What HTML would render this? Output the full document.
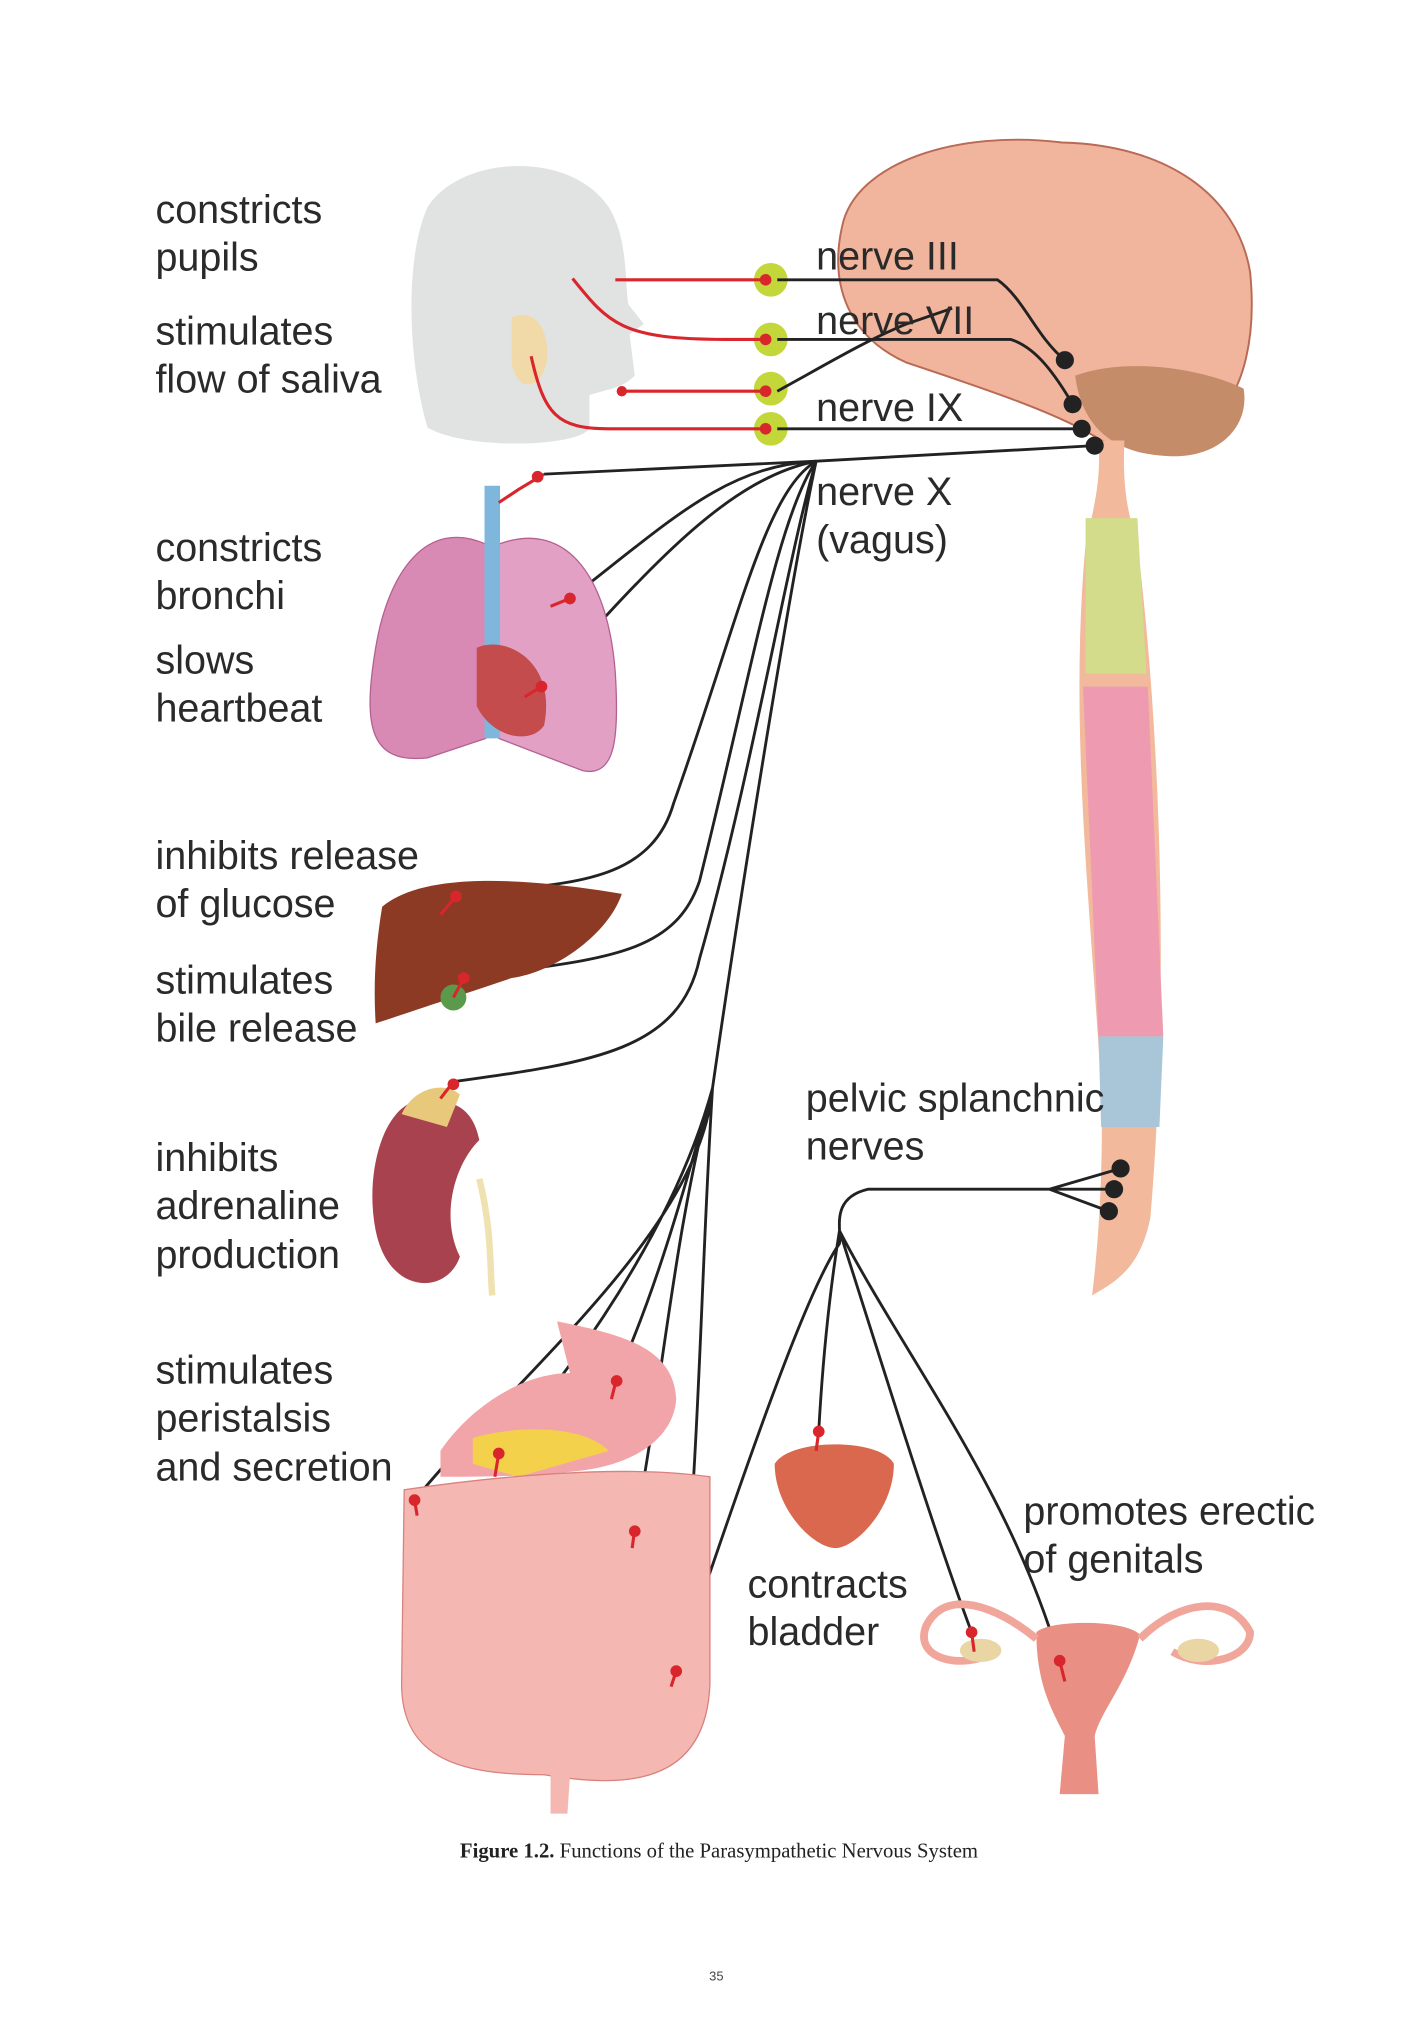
<!DOCTYPE html>
<html><head><meta charset="utf-8"><style>
html,body{margin:0;padding:0;background:#fff;width:1425px;height:2017px;overflow:hidden}
svg{display:block}
.t{font-family:"Liberation Sans",Arial,sans-serif;font-size:30.5px;fill:#2a2a2a}
.n{stroke:#222;stroke-width:2.2;fill:none}
.r{stroke:#d8262c;stroke-width:2.4;fill:none}
</style></head><body>
<svg width="1425" height="2017" viewBox="0 0 1100 1557" xmlns="http://www.w3.org/2000/svg">
<rect width="1100" height="1557" fill="#fff"/>
<path d="M330 330 C315 280 312 200 330 160 C355 120 440 115 470 160 C485 185 482 215 485 235 L497 250 L486 258 L490 290 C480 300 470 300 455 305 L455 330 C450 345 360 348 330 330Z" fill="#e1e3e3"/>
<path d="M395 245 C410 238 425 250 422 280 C415 305 398 300 395 280Z" fill="#f1d9a8"/>
<path d="M650 175 C660 125 740 100 820 110 C900 112 955 150 965 210 C970 260 960 300 940 320 C920 345 880 350 850 340 C820 320 760 300 700 280 C655 260 640 220 650 175Z" fill="#f1b49d" stroke="#b86a55" stroke-width="1.5"/>
<path d="M830 290 C870 275 930 285 960 300 C965 330 940 355 900 352 C860 350 835 330 830 290Z" fill="#c58c6a"/>
<path d="M848 340 L868 340 C866 380 872 400 878 420 C900 600 900 800 888 940 C880 980 860 990 843 1000 C848 960 852 900 850 840 C842 700 825 560 838 420 C845 390 850 370 848 340Z" fill="#f2b99c"/>
<path d="M838 400 L878 400 L885 520 L838 520Z" fill="#d3dc8a"/>
<path d="M836 530 L886 530 L898 800 L848 800Z" fill="#ee9ab0"/>
<path d="M848 800 L898 800 L895 870 L850 870Z" fill="#a9c6d8"/>
<g fill="#c3d73b"><circle cx="595" cy="216" r="13"/><circle cx="595" cy="262" r="13"/><circle cx="595" cy="300" r="13"/><circle cx="595" cy="331" r="13"/></g>
<path class="r" d="M475 216 L592 216 M442 215 C470 250 480 262 560 262 L592 262 M480 302 L592 302 M410 275 C420 320 430 331 470 331 L592 331"/>
<g fill="#d8262c"><circle cx="591" cy="216" r="4.5"/><circle cx="591" cy="262" r="4.5"/><circle cx="591" cy="302" r="4.5"/><circle cx="591" cy="331" r="4.5"/><circle cx="480" cy="302" r="4"/></g>
<path class="n" d="M600 216 L770 216 C790 230 800 260 822 278 M600 262 L780 262 C800 268 815 290 828 312 M600 302 C640 280 670 262 700 250 L735 238 M600 331 L835 331 M420 366 L630 356 L845 344 M630 356 C560 360 520 400 440 462 M630 356 C560 370 500 440 418 530 M630 356 C590 380 570 480 520 620 C500 690 420 680 352 692 M630 356 C600 400 580 520 540 680 C520 740 460 740 358 755 M630 356 C610 420 580 600 540 740 C525 810 460 820 350 835 M630 356 C610 450 570 700 550 840 C540 950 400 1060 320 1158 M630 356 C610 450 570 700 550 840 C520 950 440 1060 385 1122 M630 356 C610 450 570 700 550 840 C520 950 500 1010 476 1064 M630 356 C610 450 570 700 550 840 C520 950 510 1080 490 1180 M630 356 C610 450 570 700 550 840 C540 1000 540 1150 522 1290"/>
<g fill="#222"><circle cx="822" cy="278" r="7"/><circle cx="828" cy="312" r="7"/><circle cx="835" cy="331" r="7"/><circle cx="845" cy="344" r="7"/><circle cx="865" cy="902" r="7"/><circle cx="860" cy="918" r="7"/><circle cx="856" cy="935" r="7"/></g>
<path class="n" d="M865 902 L810 918 L862 918 M810 918 L856 935 M810 918 L670 918 C640 925 650 950 648 960 C620 1000 570 1150 522 1290 M648 950 C640 1000 635 1050 632 1105 M648 950 C680 1050 720 1180 750 1260 M648 950 C700 1050 780 1150 818 1282"/>
<path d="M375 420 C330 400 300 440 290 500 C280 560 285 590 330 585 L375 570Z" fill="#d98ab4" stroke="#b46090"/>
<path d="M385 420 C440 400 470 450 475 520 C478 570 475 600 450 595 L385 570Z" fill="#e1a0c4" stroke="#b46090"/>
<path d="M374 375 L386 375 L386 570 L374 570Z" fill="#7fb7dc"/>
<path d="M368 500 C390 490 430 510 420 560 C410 575 380 570 368 545Z" fill="#c44c4c"/>
<path d="M295 700 C330 670 420 680 480 690 C470 720 430 750 395 755 C350 770 320 780 290 790 C288 760 290 730 295 700Z" fill="#8c3a24"/>
<circle cx="350" cy="770" r="10" fill="#5a9a4a"/>
<path d="M335 850 C300 840 280 900 290 950 C300 1000 345 1000 355 970 C340 940 350 900 370 880 C365 855 350 850 335 850Z" fill="#a8424e"/>
<path d="M310 860 C320 838 345 835 355 845 L345 870Z" fill="#e8c87a"/>
<path d="M370 910 C380 950 378 980 380 1000" stroke="#efe1b0" stroke-width="5" fill="none"/>
<path d="M340 1120 C360 1090 400 1060 440 1060 L430 1020 C480 1030 520 1040 522 1080 C520 1110 490 1130 450 1135 C410 1140 370 1140 340 1140Z" fill="#f2a5a8"/>
<path d="M365 1110 C400 1100 450 1100 470 1120 L400 1140 L365 1130Z" fill="#f3d14a"/>
<path d="M312 1150 C380 1140 480 1130 548 1140 L548 1300 C545 1380 480 1380 420 1370 C360 1370 310 1360 310 1300Z" fill="#f4b7b1" stroke="#d9817e"/>
<path d="M425 1370 L440 1370 L438 1400 L425 1400Z" fill="#f4b7b1"/>
<path d="M598 1130 C610 1110 680 1110 690 1130 C690 1165 660 1195 645 1195 C628 1195 598 1165 598 1130Z" fill="#d9684e"/>
<path d="M800 1260 C810 1250 870 1250 880 1262 C870 1300 850 1320 845 1340 L848 1385 L818 1385 L822 1340 C812 1320 800 1300 800 1260Z" fill="#e98f84"/>
<path d="M800 1265 C770 1240 730 1225 715 1255 C705 1280 740 1290 770 1275 M880 1265 C910 1235 950 1230 965 1260 C965 1280 930 1290 905 1275" stroke="#f0a69a" stroke-width="6" fill="none"/>
<ellipse cx="757" cy="1274" rx="16" ry="9" fill="#ead5a5"/><ellipse cx="925" cy="1274" rx="16" ry="9" fill="#ead5a5"/>
<g class="r"><path d="M420 366 L400 378 L385 388 M440 462 L425 468 M418 530 L405 538 M352 692 L340 706 M358 755 L350 770 M350 835 L340 848 M320 1158 L322 1170 M385 1122 L382 1140 M476 1064 L472 1080 M490 1180 L488 1195 M522 1290 L518 1302 M632 1105 L630 1120 M750 1260 L752 1275 M818 1282 L822 1298"/></g>
<g fill="#d8262c"><circle cx="415" cy="368" r="4.5"/><circle cx="440" cy="462" r="4.5"/><circle cx="418" cy="530" r="4.5"/><circle cx="352" cy="692" r="4.5"/><circle cx="358" cy="755" r="4.5"/><circle cx="350" cy="837" r="4.5"/><circle cx="320" cy="1158" r="4.5"/><circle cx="385" cy="1122" r="4.5"/><circle cx="476" cy="1066" r="4.5"/><circle cx="490" cy="1182" r="4.5"/><circle cx="522" cy="1290" r="4.5"/><circle cx="632" cy="1105" r="4.5"/><circle cx="750" cy="1260" r="4.5"/><circle cx="818" cy="1282" r="4.5"/></g>
<g class="t">
<text x="120" y="172">constricts</text><text x="120" y="209">pupils</text>
<text x="120" y="266">stimulates</text><text x="120" y="303">flow of saliva</text>
<text x="120" y="433">constricts</text><text x="120" y="470">bronchi</text>
<text x="120" y="520">slows</text><text x="120" y="557">heartbeat</text>
<text x="120" y="671">inhibits release</text><text x="120" y="708">of glucose</text>
<text x="120" y="767">stimulates</text><text x="120" y="804">bile release</text>
<text x="120" y="904">inhibits</text><text x="120" y="941">adrenaline</text><text x="120" y="979">production</text>
<text x="120" y="1068">stimulates</text><text x="120" y="1105">peristalsis</text><text x="120" y="1143">and secretion</text>
<text x="630" y="208">nerve III</text><text x="630" y="258">nerve VII</text><text x="630" y="325">nerve IX</text>
<text x="630" y="390">nerve X</text><text x="630" y="427">(vagus)</text>
<text x="622" y="858">pelvic splanchnic</text><text x="622" y="895">nerves</text>
<text x="577" y="1233">contracts</text><text x="577" y="1270">bladder</text>
<text x="790" y="1177">promotes erectic</text><text x="790" y="1214">of genitals</text>
</g>
<rect x="1014" y="1140" width="86" height="90" fill="#fff"/>
<text x="555" y="1434" text-anchor="middle" font-family="Liberation Serif,serif" font-size="16" fill="#222"><tspan font-weight="bold">Figure 1.2.</tspan> Functions of the Parasympathetic Nervous System</text>
<text x="553" y="1529" text-anchor="middle" font-family="Liberation Sans,sans-serif" font-size="10" fill="#444">35</text>
</svg>
</body></html>
